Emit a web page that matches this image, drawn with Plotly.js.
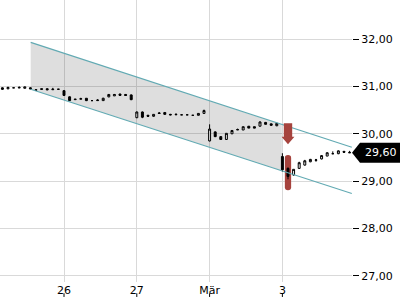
<!DOCTYPE html>
<html>
<head>
<meta charset="utf-8">
<script src="https://cdn.plot.ly/plotly-3.0.1.min.js"></script>
<style>html,body{margin:0;padding:0;background:#fff;}#chart{width:400px;height:300px;}</style>
</head>
<body>
<div id="chart"></div>
<script>
// ---- data ----
const dayLabels = ['26', '27', 'Mär', '3'];
const candlesPerDay = 13;
const candlesBeforeFirstDay = 11;

const openPrices = [30.97,30.95,30.97,30.98,30.96,30.97,30.93,30.95,30.95,30.93,30.94,
  30.91,30.78,30.72,30.73,30.75,30.70,30.70,30.70,30.78,30.80,30.84,30.83,30.82,
  30.34,30.46,30.39,30.37,30.44,30.45,30.41,30.40,30.40,30.40,30.39,30.39,30.43,
  29.85,30.04,29.94,29.88,30.00,30.08,30.08,30.16,30.15,30.16,30.24,30.21,30.17,
  29.52,29.27,29.13,29.27,29.34,29.41,29.44,29.47,29.53,29.58,29.58,29.63,29.61];
const highPrices = [30.98,30.99,30.97,31.00,30.99,30.98,30.93,30.95,30.96,30.97,30.94,
  30.92,30.79,30.73,30.76,30.75,30.71,30.73,30.76,30.84,30.84,30.84,30.84,30.83,
  30.47,30.47,30.40,30.41,30.46,30.45,30.42,30.43,30.40,30.40,30.39,30.43,30.51,
  30.20,30.05,29.95,30.01,30.07,30.11,30.15,30.16,30.15,30.26,30.25,30.21,30.23,
  29.59,29.29,29.25,29.41,29.45,29.47,29.47,29.55,29.61,29.63,29.65,29.63,29.64];
const lowPrices = [30.93,30.94,30.97,30.97,30.96,30.94,30.92,30.93,30.92,30.93,30.93,
  30.80,30.69,30.72,30.73,30.69,30.70,30.70,30.70,30.77,30.80,30.80,30.80,30.71,
  30.33,30.33,30.36,30.36,30.42,30.40,30.39,30.40,30.40,30.40,30.39,30.39,30.43,
  29.84,29.93,29.87,29.87,30.00,30.08,30.08,30.12,30.12,30.16,30.20,30.17,30.16,
  29.20,29.04,29.12,29.26,29.33,29.40,29.41,29.46,29.53,29.57,29.57,29.61,29.60];
const closePrices = [30.94,30.98,30.97,30.97,30.99,30.95,30.92,30.94,30.93,30.94,30.94,
  30.81,30.70,30.73,30.74,30.70,30.70,30.71,30.75,30.83,30.83,30.81,30.81,30.72,
  30.46,30.35,30.37,30.41,30.43,30.41,30.40,30.41,30.40,30.40,30.39,30.43,30.49,
  30.10,29.94,29.88,30.01,30.07,30.09,30.15,30.12,30.12,30.25,30.20,30.18,30.22,
  29.24,29.10,29.25,29.39,29.43,29.46,29.45,29.54,29.60,29.58,29.64,29.61,29.60];

// trend channel (candle index, price)
const channelX = [5.05, 62.4];
const channelUpper = [31.93, 29.715];
const channelLower = [30.94, 28.74];
const channelFillEndX = 49.9;

// sell signal
const signalIndex = 51;
const arrowPrices = [30.22, 29.94, 29.78]; // top, head base, tip
const signalBarPrices = [28.81, 29.55];     // low, high

// ---- derived ----
const xIdx = openPrices.map((_, i) => i);
const tickVals = dayLabels.map((_, d) => candlesBeforeFirstDay + d * candlesPerDay);
const lastClose = closePrices[closePrices.length - 1];

function lerp(xs, ys, x) { return ys[0] + (ys[1] - ys[0]) * (x - xs[0]) / (xs[1] - xs[0]); }
const fillX = [channelX[0], channelFillEndX, channelFillEndX, channelX[0], channelX[0]];
const fillY = [channelUpper[0], lerp(channelX, channelUpper, channelFillEndX),
  lerp(channelX, channelLower, channelFillEndX), channelLower[0], channelUpper[0]];

const red = '#a6433d';
const teal = '#62aab3';

const traces = [
  {type:'scatter', mode:'lines', x:fillX, y:fillY, fill:'toself',
   fillcolor:'rgba(0,0,0,0.13)', line:{width:0}, hoverinfo:'skip', showlegend:false},
  {type:'scatter', mode:'lines', x:channelX, y:channelUpper, line:{color:teal, width:1.2}, hoverinfo:'skip', showlegend:false},
  {type:'scatter', mode:'lines', x:channelX, y:channelLower, line:{color:teal, width:1.2}, hoverinfo:'skip', showlegend:false},
  {type:'candlestick', x:xIdx, open:openPrices, high:highPrices, low:lowPrices, close:closePrices,
   increasing:{line:{color:'#000', width:1}, fillcolor:'#fff'},
   decreasing:{line:{color:'#000', width:1}, fillcolor:'#000'},
   whiskerwidth:0, hoverinfo:'skip', showlegend:false}
];

const s = signalIndex;
const sw = 0.75, hw = 1.15;
const arrowPath = `M ${s-sw},${arrowPrices[0]} L ${s+sw},${arrowPrices[0]} L ${s+sw},${arrowPrices[1]} L ${s+hw},${arrowPrices[1]} L ${s},${arrowPrices[2]} L ${s-hw},${arrowPrices[1]} L ${s-sw},${arrowPrices[1]} Z`;
const bw = 0.56, br = 0.06;
const bl = signalBarPrices[0], bh = signalBarPrices[1];
const barPath = `M ${s-bw},${bl+br} L ${s-bw},${bh-br} Q ${s-bw},${bh} ${s},${bh} Q ${s+bw},${bh} ${s+bw},${bh-br} L ${s+bw},${bl+br} Q ${s+bw},${bl} ${s},${bl} Q ${s-bw},${bl} ${s-bw},${bl+br} Z`;

const plotW = 352, plotH = 282;
const halfH = 10 / 47.45;
const labelPath = `M 1,${lastClose} L ${1+8/plotW},${lastClose+halfH} L 1.2,${lastClose+halfH} L 1.2,${lastClose-halfH} L ${1+8/plotW},${lastClose-halfH} Z`;

const shapes = [
  {type:'path', path:barPath, xref:'x', yref:'y', fillcolor:red, line:{width:0}, layer:'between'},
  {type:'path', path:arrowPath, xref:'x', yref:'y', fillcolor:red, line:{width:0}, layer:'above'},
  {type:'path', path:labelPath, xref:'paper', yref:'y', fillcolor:'#000', line:{width:0}, layer:'above'}
].concat(tickVals.map(v => ({type:'line', xref:'x', yref:'paper', x0:v, x1:v, y0:-0.040, y1:-0.053,
  line:{color:'#000', width:1}})));

const layout = {
  width:400, height:300,
  margin:{l:0, r:400-plotW, t:0, b:300-plotH, pad:0},
  paper_bgcolor:'#fff', plot_bgcolor:'#fff',
  separators:',.',
  showlegend:false,
  boxgap:0.5,
  font:{family:'DejaVu Sans', size:11, color:'#000'},
  xaxis:{range:[-0.4286, 62.43], tickvals:tickVals, ticktext:dayLabels, ticks:'',
    showgrid:true, gridcolor:'#d9d9d9', gridwidth:1, zeroline:false, showline:false,
    rangeslider:{visible:false}, tickfont:{family:'DejaVu Sans', size:11, color:'#000'}, fixedrange:true},
  yaxis:{range:[26.873, 32.823], side:'right', dtick:1, tick0:27, tickformat:'.2f',
    ticks:'outside', ticklen:6, tickcolor:'#000', tickwidth:1,
    showgrid:true, gridcolor:'#d9d9d9', gridwidth:1, zeroline:false, showline:false,
    tickfont:{family:'DejaVu Sans', size:11, color:'#000'}, fixedrange:true},
  shapes:shapes,
  annotations:[{xref:'paper', yref:'y', x:1+11/plotW, y:lastClose, xanchor:'left', yanchor:'middle',
    text:lastClose.toFixed(2).replace('.', ','), showarrow:false,
    font:{family:'DejaVu Sans', size:11, color:'#fff'}}]
};

Plotly.newPlot('chart', traces, layout, {displayModeBar:false, staticPlot:true});
</script>
</body>
</html>
